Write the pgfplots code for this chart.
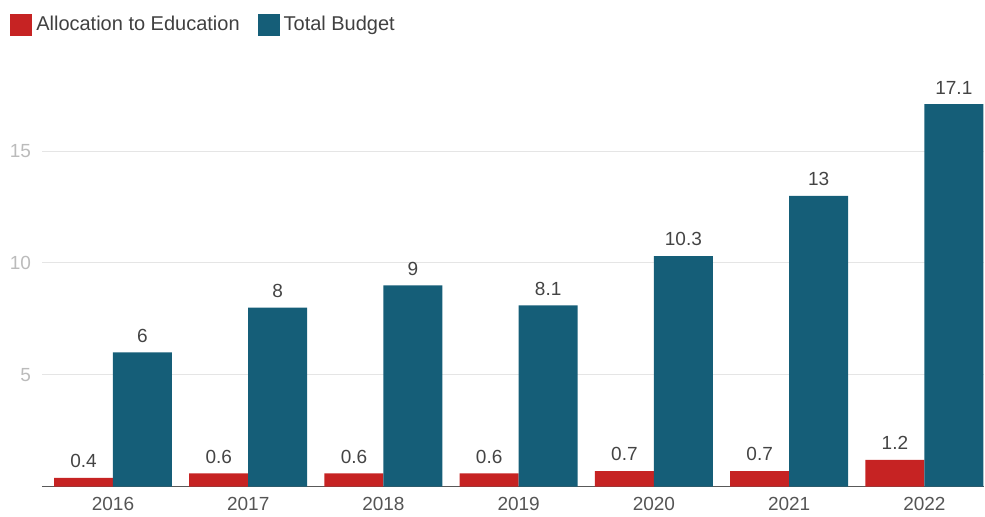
\documentclass[border=0pt]{standalone}
\usepackage{pgfplots}
\pgfplotsset{compat=1.18}
\usepackage{fontspec}
\setmainfont{Liberation Sans}
\definecolor{edured}{HTML}{C62323}
\definecolor{budblue}{HTML}{155E78}
\definecolor{ytick}{HTML}{BBBBBB}
\definecolor{xtick}{HTML}{555555}
\definecolor{vallab}{HTML}{444444}
\begin{document}
\begin{tikzpicture}
\begin{axis}[
  scale only axis,
  width=471.5pt, height=201.5pt,
  ymin=0, ymax=18,
  xmin=-0.525, xmax=6.444,
  ybar=0pt, bar width=29.5pt,
  axis lines*=left,
  y axis line style={draw=none},
  x axis line style={draw=black!65, line width=0.6pt},
  major tick length=0pt,
  xtick={0,1,2,3,4,5,6},
  xticklabels={2016,2017,2018,2019,2020,2021,2022},
  ytick={5,10,15},
  ymajorgrids, grid style={black!10, line width=0.5pt},
  /pgf/number format/assume math mode=true,
  x tick label style={font=\fontsize{9.5}{11}\selectfont, text=xtick, yshift=-1.5pt},
  y tick label style={font=\fontsize{9.5}{11}\selectfont, text=ytick, xshift=-2pt},
  nodes near coords,
  nodes near coords style={font=\fontsize{9.5}{11}\selectfont, text=vallab, yshift=1.5pt},
  legend columns=2,
  legend style={draw=none, fill=none, inner sep=0pt, at={(-0.034,1.146)}, anchor=west,
    font=\fontsize{10}{12}\selectfont, text=black!75,
    /tikz/every even column/.append style={column sep=7pt}},
  legend cell align=left,
  legend image code/.code={\fill[#1] (0pt,-5.5pt) rectangle (11pt,5.5pt);},
  clip=false,
]
\addplot[fill=edured, draw=none] coordinates {(0,0.4) (1,0.6) (2,0.6) (3,0.6) (4,0.7) (5,0.7) (6,1.2)};
\addplot[fill=budblue, draw=none] coordinates {(0,6) (1,8) (2,9) (3,8.1) (4,10.3) (5,13) (6,17.1)};
\legend{Allocation to Education, Total Budget}
\path (rel axis cs:0,0) ++(-21pt,-13.5pt) (rel axis cs:1,1) ++(0pt,42pt);
\end{axis}
\end{tikzpicture}
\end{document}
